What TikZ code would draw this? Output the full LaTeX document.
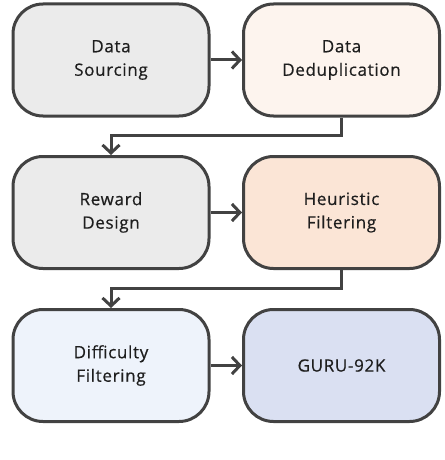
\documentclass[tikz,border=0pt]{standalone}
\usepackage{fontspec}
\setmainfont{Open Sans}
\newfontfamily\boxfont{Open Sans}[LetterSpace=4, FakeBold=0.5]
\newfontfamily\capfont{Liberation Serif}
\usetikzlibrary{arrows.meta}
\definecolor{edge}{HTML}{424242}
\definecolor{txt}{HTML}{1E1E1E}
\definecolor{fgray}{HTML}{EBEBEB}
\definecolor{fpeachl}{HTML}{FDF4EE}
\definecolor{fpeach}{HTML}{FBE5D6}
\definecolor{fbluel}{HTML}{EEF3FB}
\definecolor{fblue}{HTML}{DAE0F2}
\begin{document}
\begin{tikzpicture}[x=1pt,y=-1pt,
  stepbox/.style={draw=edge, line width=3pt, rounded corners=30pt,
    minimum width=196pt, minimum height=112pt, align=center,
    font=\boxfont\fontsize{17}{23.5}\selectfont, text=txt, inner sep=0pt},
  link/.style={draw=edge, line width=3pt,
    -{Straight Barb[length=8pt,width=17pt,line width=3pt]}}]
\useasboundingbox (0,0) rectangle (444,460);
\node[stepbox, fill=fgray]   (src) at (111,60)  {Data\\Sourcing};
\node[stepbox, fill=fpeachl] (dedup) at (341.5,60) {Data\\Deduplication};
\node[stepbox, fill=fgray]   (rew) at (111,212.5) {Reward\\Design};
\node[stepbox, fill=fpeach]  (heur) at (341.5,212.5) {Heuristic\\Filtering};
\node[stepbox, fill=fbluel]  (diff) at (111,365.5) {Difficulty\\Filtering};
\node[stepbox, fill=fblue]   (guru) at (341.5,365.5) {GURU{-}92K};
\draw[link] (src) -- (dedup);
\draw[link] (rew) -- (heur);
\draw[link] (diff) -- (guru);
\draw[link] (dedup.south) -- ++(0,18) -| (rew.north);
\draw[link] (heur.south) -- ++(0,18) -| (diff.north);
\node[anchor=base west, inner sep=0pt, font=\capfont\fontsize{23}{27}\selectfont] (cap) at (0,478)
  {\textbf{Figure 2:}\hspace{10pt}Overview of the data curation};
\end{tikzpicture}
\end{document}
